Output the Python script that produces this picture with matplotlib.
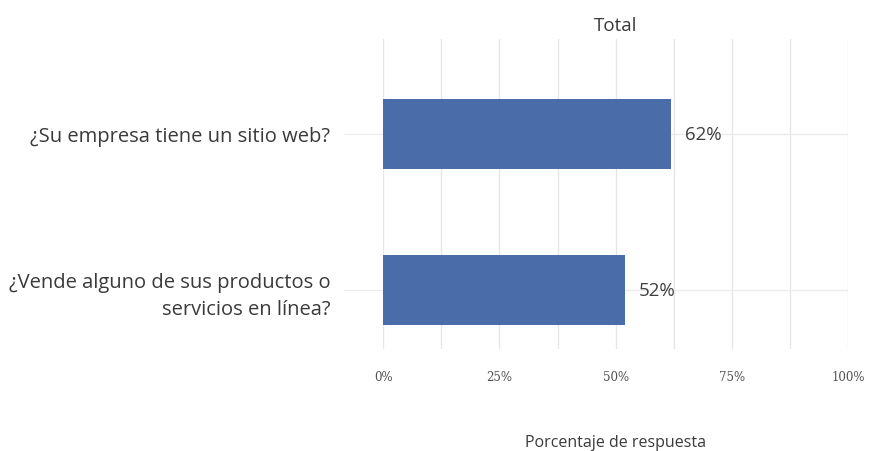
import matplotlib
matplotlib.use("Agg")
import matplotlib.pyplot as plt
import numpy as np

# donnees
preguntas = ["¿Su empresa tiene un sitio web?",
             "¿Vende alguno de sus productos o\nservicios en línea?"]
valores = [62, 52]
ticks = [0, 25, 50, 75, 100]
tick_labels = ["0%", "25%", "50%", "75%", "100%"]

plt.rcParams['font.family'] = ['Open Sans', 'DejaVu Sans']

fig = plt.figure(figsize=(8.77, 4.52), dpi=100)
ax = fig.add_axes([0.437, 0.226, 0.53, 0.686])

y = np.arange(len(preguntas))
ax.barh(y, valores, height=0.45, color='#4a6daa', zorder=3)

for i, v in enumerate(valores):
    ax.text(v + 3, y[i], "{0}%".format(v), va='center', ha='left',
            fontsize=13.5, color='#404040')

ax.set_xlim(0, 100)
ax.set_ylim(1.38, -0.61)
ax.set_xticks(ticks)
ax.set_xticklabels(tick_labels, fontsize=8.5, color='#505050', family='DejaVu Serif')
ax.set_xticks(np.arange(12.5, 100, 25), minor=True)
ax.set_yticks(y)
ax.set_yticklabels(preguntas, fontsize=14.5, color='#3a3a3a', linespacing=1.45)

ax.grid(axis='x', which='both', color='#e6e6e6', linewidth=1, zorder=0)
ax.grid(axis='y', color='#ececec', linewidth=1, zorder=0)
ax.tick_params(axis='x', which='both', length=0, pad=15)
ax.tick_params(axis='y', length=28, color='#ececec', pad=10)
for s in ax.spines.values():
    s.set_visible(False)

ax.set_title("Total", fontsize=13.5, color='#3a3a3a', pad=6)
ax.set_xlabel("Porcentaje de respuesta", fontsize=11.5, color='#3a3a3a', labelpad=37)

fig.savefig("out.png", dpi=100, facecolor='white')
